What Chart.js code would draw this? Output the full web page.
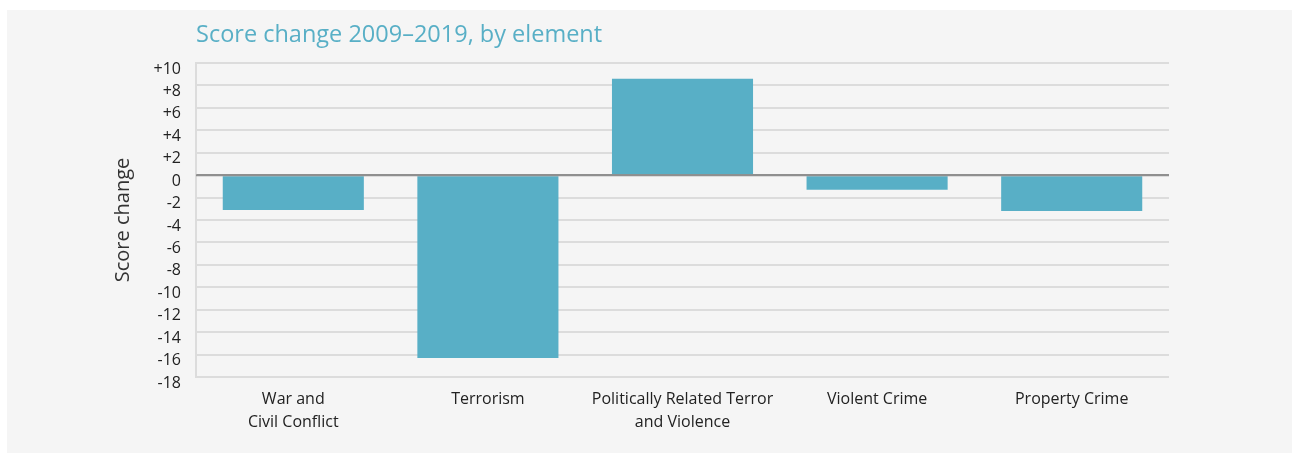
<!DOCTYPE html>
<html>
<head>
<meta charset="utf-8">
<script src="https://cdn.jsdelivr.net/npm/chart.js@4/dist/chart.umd.min.js"></script>
<style>
  html, body { margin: 0; padding: 0; background: #ffffff; }
  #panel { position: absolute; left: 7px; top: 10px; width: 1285px; height: 443px; background: #f5f5f5; }
</style>
</head>
<body>
<div id="panel"><canvas id="chart" width="1285" height="443"></canvas></div>
<script>
// score change 2009-2019 by element
const categories = [
  ['War and', 'Civil Conflict'],
  'Terrorism',
  ['Politically Related Terror', 'and Violence'],
  'Violent Crime',
  'Property Crime'
];
const scoreChange = [-3.1, -16.3, 8.6, -1.3, -3.2];
const yTicks = [10, 8, 6, 4, 2, 0, -2, -4, -6, -8, -10, -12, -14, -16, -18];

const chartTitle = 'Score change 2009\u20132019, by element';
const teal = '#58afc6';

// title drawn at the plot's left edge
const titlePlugin = {
  id: 'leftTitle',
  afterDraw(chart) {
    const ctx = chart.ctx;
    ctx.save();
    ctx.font = '23.5px "Open Sans"';
    ctx.fillStyle = teal;
    ctx.textBaseline = 'alphabetic';
    ctx.fillText(chartTitle, chart.chartArea.left, 32);
    ctx.restore();
  }
};

// zero line sits on top of the bars
const zeroLine = {
  id: 'zeroLine',
  afterDatasetsDraw(chart) {
    const y = chart.scales.y.getPixelForValue(0);
    const ctx = chart.ctx;
    ctx.save();
    ctx.strokeStyle = '#8f8f8f';
    ctx.lineWidth = 2;
    ctx.beginPath();
    ctx.moveTo(chart.chartArea.left, y);
    ctx.lineTo(chart.chartArea.right, y);
    ctx.stroke();
    ctx.restore();
  }
};

new Chart(document.getElementById('chart'), {
  type: 'bar',
  data: {
    labels: categories,
    datasets: [{
      data: scoreChange,
      backgroundColor: teal,
      borderWidth: 0,
      categoryPercentage: 1,
      barPercentage: 0.725
    }]
  },
  options: {
    responsive: false,
    animation: false,
    layout: { padding: { top: 53, right: 123, left: 100, bottom: 0 } },
    plugins: {
      legend: { display: false },
      tooltip: { enabled: false }
    },
    scales: {
      x: {
        grid: { display: false, drawTicks: false },
        border: { display: false },
        ticks: {
          color: '#222',
          font: { family: 'Open Sans', size: 16, lineHeight: 1.45 },
          padding: 11,
          maxRotation: 0,
          autoSkip: false
        },
        afterFit(scale) { scale.height = 76; }
      },
      y: {
        min: -18,
        max: 10,
        afterBuildTicks(scale) {
          scale.ticks = yTicks.map(v => ({ value: v }));
        },
        grid: {
          color: ctx => ctx.tick && ctx.tick.value === 0 ? '#8f8f8f' : '#dcdcdc',
          lineWidth: 2,
          drawTicks: false
        },
        border: { color: '#dcdcdc', width: 2 },
        ticks: {
          color: '#222',
          font: { family: 'Open Sans', size: 16 },
          padding: 15,
          labelOffset: 6,
          callback: v => v > 0 ? '+' + v : String(v)
        },
        title: {
          display: true,
          text: 'Score change',
          color: '#333',
          font: { family: 'Open Sans', size: 20, lineHeight: 1.2 },
          padding: { top: 4, bottom: 0 }
        },
        afterFit(scale) { scale.width = 89; }
      }
    }
  },
  plugins: [titlePlugin, zeroLine]
});
</script>
</body>
</html>
